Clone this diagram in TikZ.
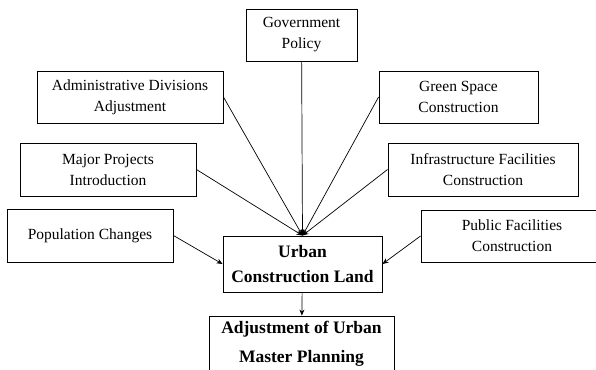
\documentclass[tikz,border=0pt]{standalone}
\usepackage{fontspec}
\setmainfont{Liberation Serif}
\usetikzlibrary{arrows.meta}
\tikzset{
  factor/.style={draw,line width=0.9pt,align=center,inner sep=2pt,
    font=\fontsize{15.5}{21}\selectfont},
  target/.style={draw,line width=0.9pt,align=center,inner sep=2pt,
    font=\fontsize{17.5}{25}\selectfont\bfseries},
  link/.style={line width=0.7pt,-{Stealth[length=6pt,width=5pt]}}
}

\begin{document}
\begin{tikzpicture}[x=1pt,y=-1pt]
        \useasboundingbox (0,0) rectangle (596,369);
        \clip (0,0) rectangle (596,369);
        % The influence factors
        \node[factor,minimum width=111,minimum height=52] (gov) at (301.5,35) {Government\\Policy};
        \node[factor,minimum width=186,minimum height=52] (admin) at (130,97) {Administrative Divisions\\Adjustment};
        \node[factor,minimum width=176,minimum height=53] (major) at (108,169.5) {Major Projects\\Introduction};
        \node[factor,minimum width=166,minimum height=53] (pop) at (90,235.5) {Population Changes};
        \node[factor,minimum width=159,minimum height=52] (green) at (458.5,97) {Green Space\\Construction};
        \node[factor,minimum width=190,minimum height=53] (infra) at (483,169.5) {Infrastructure Facilities\\Construction};
        \node[factor,minimum width=182,minimum height=52] (public) at (512,236) {Public Facilities\\Construction};

        % The land and the plan
        \node[target,minimum width=159,minimum height=56] (urban) at (302.5,264) {Urban\\Construction Land};
        \node[target,minimum width=185,minimum height=56,
          font=\fontsize{17.5}{29}\selectfont\bfseries] (plan) at (301.5,344) {Adjustment of Urban\\Master Planning};

        % Arrows
        \draw[link] (gov) -- (urban.north);
        \draw[link] (admin.east) -- (urban.north);
        \draw[link] (major.east) -- (urban.north);
        \draw[link] (green.west) -- (urban.north);
        \draw[link] (infra.west) -- (urban.north);
        \draw[link] (pop.east) -- (urban.west);
        \draw[link] (public.west) -- (urban.east);
        \draw[link] (urban) -- (plan);
\end{tikzpicture}
\end{document}
